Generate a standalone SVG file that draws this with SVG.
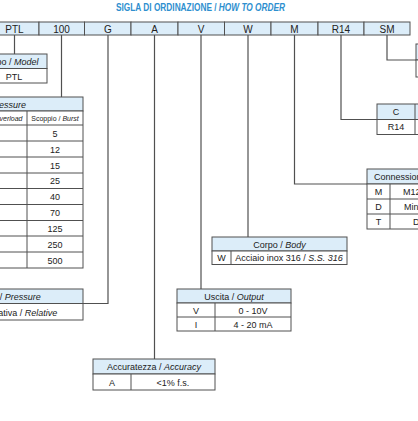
<svg xmlns="http://www.w3.org/2000/svg" width="418" height="421" viewBox="0 0 418 421">
<style>
.h{fill:#dcedf9;stroke:#505050;stroke-width:1}
.w{fill:#fff;stroke:#505050;stroke-width:1}
.d{stroke:#505050;stroke-width:1;fill:none}
.ln{fill:none;stroke:#505050;stroke-width:1.2}
text{font-family:"Liberation Sans",Arial,sans-serif;font-size:9px;fill:#222;text-anchor:middle}
.i{font-style:italic}
.s{font-size:7px}
.top{font-size:10px}
.title{font-size:10px;font-weight:bold;fill:#2e8fcf}
</style>
<rect width="418" height="421" fill="#fff"/>
<g id="title">
<text class="title" transform="translate(200.5 11) scale(0.83 1)">SIGLA DI ORDINAZIONE / <tspan class="i">HOW TO ORDER</tspan></text>
</g>

<g id="code-row">
<rect class="h" x="-8" y="22" width="47" height="13"/>
<rect class="h" x="39" y="22" width="45.5" height="13"/>
<rect class="h" x="84.5" y="22" width="46.5" height="13"/>
<rect class="h" x="131" y="22" width="47" height="13"/>
<rect class="h" x="178" y="22" width="46.5" height="13"/>
<rect class="h" x="224.5" y="22" width="46.5" height="13"/>
<rect class="h" x="271" y="22" width="47" height="13"/>
<rect class="h" x="318" y="22" width="46" height="13"/>
<rect class="h" x="364" y="22" width="46" height="13"/>
<text class="top" x="14.5" y="32.5">PTL</text>
<text class="top" x="61.5" y="32.5">100</text>
<text class="top" x="108" y="32.5">G</text>
<text class="top" x="154.5" y="32.5">A</text>
<text class="top" x="201" y="32.5">V</text>
<text class="top" x="248" y="32.5">W</text>
<text class="top" x="294.5" y="32.5">M</text>
<text class="top" x="341" y="32.5">R14</text>
<text class="top" x="387" y="32.5">SM</text>
</g>

<g id="connectors">
<path class="ln" d="M14.5 35V54"/>
<path class="ln" d="M61.5 35V97"/>
<path class="ln" d="M108 35V303.5H83"/>
<path class="ln" d="M154.5 35V359"/>
<path class="ln" d="M201 35V289"/>
<path class="ln" d="M248 35V237"/>
<path class="ln" d="M294.5 35V184H367"/>
<path class="ln" d="M341 35V119.5H377"/>
<path class="ln" d="M387 35V60H416"/>
</g>

<g id="model">
<rect class="h" x="-19" y="54" width="66" height="14.5"/>
<rect class="w" x="-19" y="68.5" width="66" height="14.5"/>
<text x="14" y="65">Tipo / <tspan class="i">Model</tspan></text>
<text x="14" y="79.5">PTL</text>
</g>

<g id="pressure-range">
<rect class="h" x="-40" y="97" width="123" height="14"/>
<rect class="w" x="-40" y="111" width="123" height="157"/>
<path class="d" d="M-40 125H83M-40 141H83M-40 157H83M-40 173H83M-40 188.5H83M-40 204.5H83M-40 220.5H83M-40 236H83M-40 252H83M27 111V268"/>
<text x="26" y="107.5" style="text-anchor:end">Pressione / <tspan class="i">Pressure</tspan></text>
<text class="s" x="22.5" y="120.5" style="text-anchor:end">Sovrapressione / <tspan class="i">Overload</tspan></text>
<text class="s" x="55" y="120.5">Scoppio / <tspan class="i">Burst</tspan></text>
<text x="55" y="136.5">5</text>
<text x="55" y="152.5">12</text>
<text x="55" y="168.5">15</text>
<text x="55" y="184">25</text>
<text x="55" y="200">40</text>
<text x="55" y="216">70</text>
<text x="55" y="231.5">125</text>
<text x="55" y="247.5">250</text>
<text x="55" y="263.5">500</text>
</g>

<g id="pressure-type">
<rect class="h" x="-80" y="289" width="163" height="14.5"/>
<rect class="w" x="-80" y="303.5" width="163" height="16.5"/>
<text x="-1" y="300">Pressione / <tspan class="i">Pressure</tspan></text>
<text x="21" y="315.5">Relativa / <tspan class="i">Relative</tspan></text>
</g>

<g id="accuracy">
<rect class="h" x="93" y="359" width="122" height="15"/>
<rect class="w" x="93" y="374" width="122" height="16"/>
<path class="d" d="M131 374V390"/>
<text x="154" y="370">Accuratezza / <tspan class="i">Accuracy</tspan></text>
<text x="112" y="385.5">A</text>
<text x="173" y="385.5">&lt;1% f.s.</text>
</g>

<g id="output">
<rect class="h" x="177" y="289" width="114" height="14"/>
<rect class="w" x="177" y="303" width="114" height="28"/>
<path class="d" d="M177 317H291M215 303V331"/>
<text x="234" y="299.5">Uscita / <tspan class="i">Output</tspan></text>
<text x="196" y="313.5">V</text>
<text x="253" y="313.5">0 - 10V</text>
<text x="196" y="327.5">I</text>
<text x="253" y="327.5">4 - 20 mA</text>
</g>

<g id="body">
<rect class="h" x="212" y="237" width="135" height="14"/>
<rect class="w" x="212" y="251" width="135" height="13.5"/>
<path class="d" d="M231 251V264.5"/>
<text x="279.5" y="247.5">Corpo / <tspan class="i">Body</tspan></text>
<text x="221.5" y="261">W</text>
<text x="289" y="261">Acciaio inox 316 / <tspan class="i">S.S. 316</tspan></text>
</g>

<g id="connection">
<rect class="h" x="367" y="169" width="120" height="15"/>
<rect class="w" x="367" y="184" width="120" height="45"/>
<path class="d" d="M367 199H487M367 214H487M390 184V229"/>
<text x="374" y="180" style="text-anchor:start">Connessione / <tspan class="i">Connection</tspan></text>
<text x="378.5" y="195">M</text>
<text x="403" y="195" style="text-anchor:start">M12x1</text>
<text x="378.5" y="210">D</text>
<text x="404" y="210" style="text-anchor:start">Mini DIN</text>
<text x="378.5" y="225">T</text>
<text x="413" y="225" style="text-anchor:start">DIN 43650</text>
</g>

<g id="cable">
<rect class="h" x="377" y="104" width="110" height="15.5"/>
<rect class="w" x="377" y="119.5" width="110" height="15"/>
<path class="d" d="M415 104V134.5"/>
<text x="396" y="115">C</text>
<text x="396" y="130">R14</text>
</g>

<g id="sm-option">
<rect class="h" x="416" y="44" width="80" height="16"/>
<rect class="w" x="416" y="60" width="80" height="17"/>
</g>
</svg>
